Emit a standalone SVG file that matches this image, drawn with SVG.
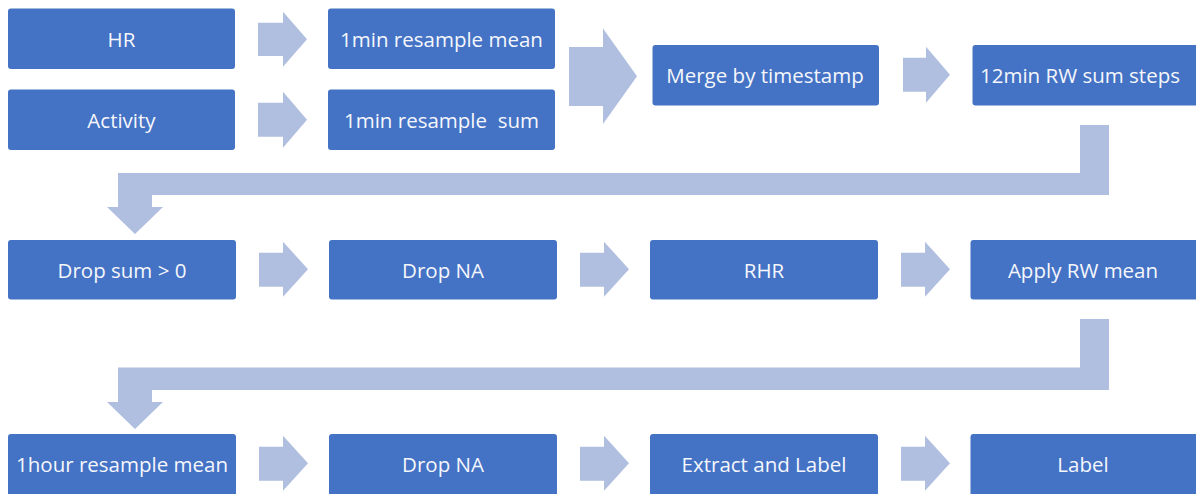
<svg xmlns="http://www.w3.org/2000/svg" width="1196" height="494" viewBox="0 0 1196 494">
<style>
.box{fill:#4472C4;}
.lbl{fill:#F5F7FC;font-family:"Open Sans","Liberation Sans",sans-serif;font-size:20.5px;text-anchor:middle;dominant-baseline:central;}
.arr{fill:#B0BEE0;}
</style>
<rect width="1196" height="494" fill="#FFFFFF"/>
<g id="connectors">
<polygon class="arr" points="258,22.7 283,22.7 283,11.7 307,39.2 283,66.7 283,56 258,56"/>
<polygon class="arr" points="258,102.7 283,102.7 283,91.7 307,119.7 283,147.7 283,136.7 258,136.7"/>
<polygon class="arr" points="569,47 603,47 603,28.5 637,76.3 603,124 603,106 569,106"/>
<polygon class="arr" points="903,57.7 926,57.7 926,46.7 950,74.7 926,102.7 926,91.7 903,91.7"/>
<polygon class="arr" points="1109,125 1109,195 152,195 152,207 163,207 135,234 107,207 118,207 118,173 1080,173 1080,125"/>
<polygon class="arr" points="259,252.7 283,252.7 283,241.7 308,269.2 283,296.7 283,286.7 259,286.7"/>
<polygon class="arr" points="580,252.7 604,252.7 604,241.7 629,269.2 604,296.7 604,286.7 580,286.7"/>
<polygon class="arr" points="901,252.7 925,252.7 925,241.7 950,269.2 925,296.7 925,286.7 901,286.7"/>
<polygon class="arr" points="1109,319 1109,390 152,390 152,402 163,402 135,429 107,402 118,402 118,367.5 1080,367.5 1080,319"/>
<polygon class="arr" points="259,446.7 283,446.7 283,435.7 308,463.2 283,490.7 283,480.7 259,480.7"/>
<polygon class="arr" points="580,446.7 604,446.7 604,435.7 629,463.2 604,490.7 604,480.7 580,480.7"/>
<polygon class="arr" points="901,446.7 925,446.7 925,435.7 950,463.2 925,490.7 925,480.7 901,480.7"/>
</g>
<g id="hr"><rect class="box" x="8" y="8.5" width="227" height="60.5" rx="3"/><text class="lbl" x="121.5" y="39">HR</text></g>
<g id="activity"><rect class="box" x="8" y="89.5" width="227" height="60.5" rx="3"/><text class="lbl" x="121.5" y="120">Activity</text></g>
<g id="resample-mean"><rect class="box" x="328" y="8.5" width="227" height="60.5" rx="3"/><text class="lbl" x="441.5" y="39">1min resample mean</text></g>
<g id="resample-sum"><rect class="box" x="328" y="89.5" width="227" height="60.5" rx="3"/><text class="lbl" x="441.5" y="120">1min resample&#160; sum</text></g>
<g id="merge"><rect class="box" x="652.5" y="45" width="226.5" height="60.5" rx="3"/><text class="lbl" x="765" y="75">Merge by timestamp</text></g>
<g id="rw-sum"><rect class="box" x="972.5" y="45" width="226.5" height="60.5" rx="3"/><text class="lbl" x="1080" y="75">12min RW sum steps</text></g>
<g id="drop-sum"><rect class="box" x="8" y="240" width="228" height="59.5" rx="3"/><text class="lbl" x="122" y="270">Drop sum &gt; 0</text></g>
<g id="drop-na-1"><rect class="box" x="329" y="240" width="228" height="59.5" rx="3"/><text class="lbl" x="443" y="270">Drop NA</text></g>
<g id="rhr"><rect class="box" x="650" y="240" width="228" height="59.5" rx="3"/><text class="lbl" x="764" y="270">RHR</text></g>
<g id="apply-rw-mean"><rect class="box" x="970.5" y="240" width="228" height="59.5" rx="3"/><text class="lbl" x="1083" y="270">Apply RW mean</text></g>
<g id="hour-resample"><rect class="box" x="8" y="434" width="228" height="62" rx="3"/><text class="lbl" x="122" y="464">1hour resample mean</text></g>
<g id="drop-na-2"><rect class="box" x="329" y="434" width="228" height="62" rx="3"/><text class="lbl" x="443" y="464">Drop NA</text></g>
<g id="extract"><rect class="box" x="650" y="434" width="228" height="62" rx="3"/><text class="lbl" x="764" y="464">Extract and Label</text></g>
<g id="label"><rect class="box" x="970.5" y="434" width="228" height="62" rx="3"/><text class="lbl" x="1083" y="464">Label</text></g>
</svg>
